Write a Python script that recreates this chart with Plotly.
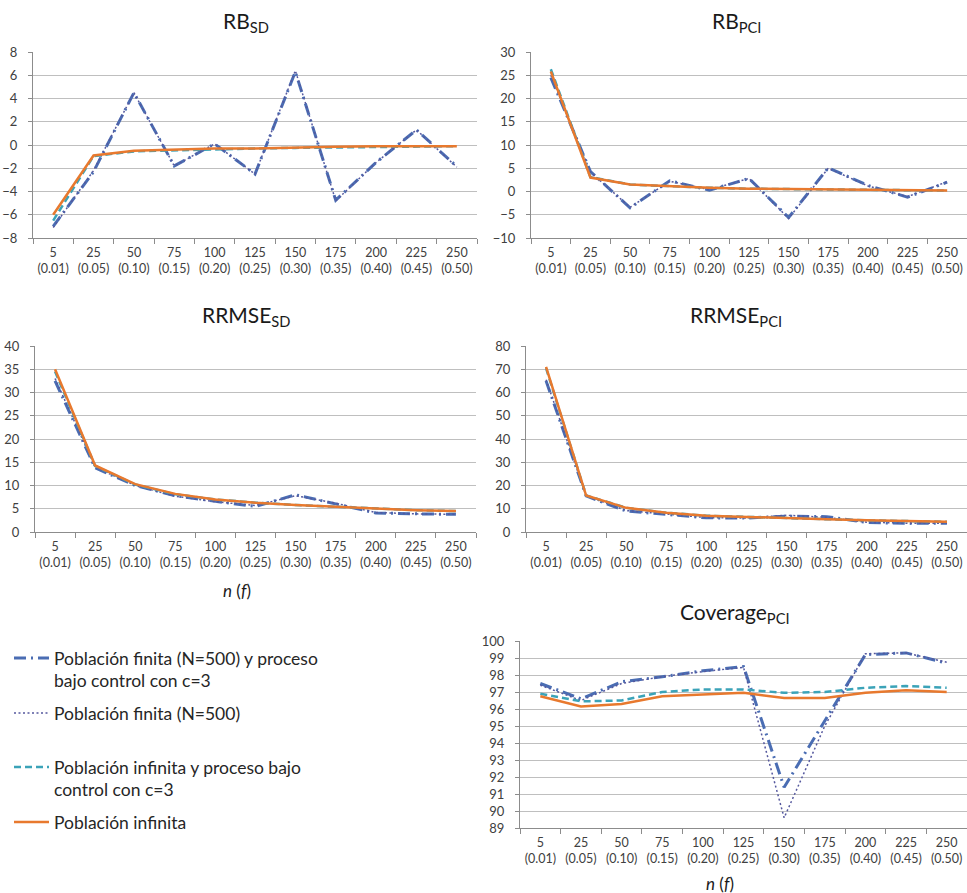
import plotly.graph_objects as go

W, H = 967, 893

# Sample size n with sampling fraction f
n_f = ["5<br>(0.01)", "25<br>(0.05)", "50<br>(0.10)", "75<br>(0.15)", "100<br>(0.20)",
       "125<br>(0.25)", "150<br>(0.30)", "175<br>(0.35)", "200<br>(0.40)", "225<br>(0.45)",
       "250<br>(0.50)"]

series_names = [
    "Población finita (N=500) y proceso<br>bajo control con c=3",
    "Población finita (N=500)",
    "Población infinita y proceso bajo<br>control con c=3",
    "Población infinita",
]

# RB_SD
rb_sd_fin_ctrl = [-7.0, -2.3, 4.5, -1.8, 0.1, -2.5, 6.3, -4.75, -1.5, 1.3, -1.85]
rb_sd_fin = [-7.1, -2.2, 4.5, -1.8, 0.1, -2.5, 6.4, -4.8, -1.5, 1.3, -1.9]
rb_sd_inf_ctrl = [-6.5, -0.95, -0.55, -0.45, -0.35, -0.3, -0.25, -0.2, -0.15, -0.1, -0.1]
rb_sd_inf = [-6.0, -0.9, -0.5, -0.4, -0.3, -0.3, -0.2, -0.15, -0.1, -0.1, -0.1]

# RB_PCI
rb_pci_fin_ctrl = [24.5, 4.3, -3.5, 2.3, 0.3, 2.8, -5.6, 5.1, 1.3, -1.2, 2.0]
rb_pci_fin = [25.0, 4.2, -3.4, 2.2, 0.4, 2.8, -5.8, 5.0, 1.2, -1.1, 2.1]
rb_pci_inf_ctrl = [26.3, 3.1, 1.5, 1.1, 0.8, 0.6, 0.5, 0.4, 0.3, 0.3, 0.2]
rb_pci_inf = [25.8, 3.0, 1.5, 1.1, 0.8, 0.6, 0.5, 0.4, 0.3, 0.3, 0.2]

# RRMSE_SD
rrmse_sd_fin_ctrl = [32.5, 13.8, 10.0, 7.8, 6.6, 5.5, 8.0, 6.0, 4.1, 3.9, 3.8]
rrmse_sd_fin = [33.0, 13.9, 10.0, 7.7, 6.5, 5.7, 7.8, 6.2, 4.2, 3.9, 3.8]
rrmse_sd_inf_ctrl = [34.5, 14.2, 10.2, 8.1, 7.0, 6.3, 5.8, 5.4, 5.0, 4.7, 4.5]
rrmse_sd_inf = [35.0, 14.3, 10.3, 8.2, 7.0, 6.3, 5.8, 5.4, 5.0, 4.7, 4.5]

# RRMSE_PCI
rrmse_pci_fin_ctrl = [65.0, 15.5, 9.0, 7.6, 6.1, 6.0, 6.8, 6.6, 4.1, 3.7, 3.8]
rrmse_pci_fin = [65.5, 15.6, 9.2, 7.7, 6.2, 6.0, 7.2, 6.3, 4.2, 3.8, 3.8]
rrmse_pci_inf_ctrl = [70.5, 15.7, 10.4, 8.3, 7.0, 6.4, 6.0, 5.5, 5.0, 4.7, 4.4]
rrmse_pci_inf = [71.0, 15.7, 10.4, 8.3, 7.0, 6.4, 6.0, 5.5, 5.0, 4.7, 4.4]

# Coverage_PCI
cov_pci_fin_ctrl = [97.5, 96.6, 97.6, 97.9, 98.25, 98.5, 91.4, 95.3, 99.2, 99.3, 98.7]
cov_pci_fin = [97.4, 96.5, 97.5, 97.9, 98.2, 98.45, 89.6, 95.0, 99.25, 99.3, 98.75]
cov_pci_inf_ctrl = [96.9, 96.45, 96.5, 97.0, 97.15, 97.15, 96.95, 97.0, 97.25, 97.35, 97.25]
cov_pci_inf = [96.75, 96.15, 96.3, 96.75, 96.85, 96.95, 96.65, 96.65, 96.95, 97.1, 97.0]

line_styles = [
    dict(color="#4A6DB3", width=3, dash="12px,5px,2px,5px"),
    dict(color="#55589E", width=1.5, dash="2px,2.5px"),
    dict(color="#3BA3B8", width=2.5, dash="7px,4px"),
    dict(color="#E8792E", width=2.5, dash="solid"),
]

FONT = "Lato, 'Open Sans', sans-serif"
GRID = "#BFBFBF"
AXIS = "#8C8C8C"
TXT = "#404040"

# (title, series, y range, dtick, x px domain, y px domain, title position, x-axis title position)
panels = [
    ("RB<sub>SD</sub>", [rb_sd_fin_ctrl, rb_sd_fin, rb_sd_inf_ctrl, rb_sd_inf],
     [-8, 8], 2, (33, 477), (52, 238), (246, 22), None),
    ("RB<sub>PCI</sub>", [rb_pci_fin_ctrl, rb_pci_fin, rb_pci_inf_ctrl, rb_pci_inf],
     [-10, 30], 5, (531, 967), (52, 238), (736, 22), None),
    ("RRMSE<sub>SD</sub>", [rrmse_sd_fin_ctrl, rrmse_sd_fin, rrmse_sd_inf_ctrl, rrmse_sd_inf],
     [0, 40], 5, (35, 476), (346, 532), (246, 316), (237, 590)),
    ("RRMSE<sub>PCI</sub>", [rrmse_pci_fin_ctrl, rrmse_pci_fin, rrmse_pci_inf_ctrl, rrmse_pci_inf],
     [0, 80], 10, (526, 967), (346, 532), (736, 316), None),
    ("Coverage<sub>PCI</sub>", [cov_pci_fin_ctrl, cov_pci_fin, cov_pci_inf_ctrl, cov_pci_inf],
     [89, 100], 1, (520, 967), (641, 828), (735, 613), (720, 883)),
]

# one legend box per series, placed by the top of its first text line
legend_ids = ["legend", "legend2", "legend3", "legend4"]
legend_tops = [640, 695, 749, 804]

fig = go.Figure()
layout = {}
annotations = []

for i, (title, series, yr, dt, xd, yd, tpos, xtpos) in enumerate(panels):
    k = "" if i == 0 else str(i + 1)
    for j, (name, vals, st) in enumerate(zip(series_names, series, line_styles)):
        fig.add_trace(go.Scatter(
            x=n_f, y=vals, mode="lines", name=name,
            line=st, showlegend=(i == 0), legend=legend_ids[j],
            xaxis="x" + k, yaxis="y" + k,
        ))
    layout["xaxis" + k] = dict(
        domain=[xd[0] / W, min(xd[1] / W, 1)], anchor="y" + k,
        type="category", range=[-0.5, 10.5], tickson="boundaries",
        ticks="outside", ticklen=5, tickcolor=AXIS, showgrid=False,
        showline=True, linecolor=AXIS, linewidth=1, tickangle=0,
        tickfont=dict(family=FONT, size=12.5, color=TXT), ticklabelstandoff=3,
        automargin=False, fixedrange=True,
    )
    layout["yaxis" + k] = dict(
        domain=[1 - yd[1] / H, 1 - yd[0] / H], anchor="x" + k,
        range=yr, dtick=dt, tick0=yr[0], showgrid=True, gridcolor=GRID, gridwidth=1,
        zeroline=False, showline=True, linecolor=AXIS, linewidth=1,
        ticks="outside", ticklen=4, tickcolor=AXIS,
        tickfont=dict(family=FONT, size=13, color=TXT), ticklabelstandoff=8,
        automargin=False, fixedrange=True,
    )
    annotations.append(dict(
        text=title, x=tpos[0] / W, y=1 - tpos[1] / H, xref="paper", yref="paper",
        xanchor="center", yanchor="middle", showarrow=False,
        font=dict(family=FONT, size=21, color="#1A1A1A"),
    ))
    if xtpos:
        annotations.append(dict(
            text="<i>n</i> (<i>f</i>)", x=xtpos[0] / W, y=1 - xtpos[1] / H,
            xref="paper", yref="paper", xanchor="center", yanchor="middle",
            showarrow=False, font=dict(family=FONT, size=17, color="#1A1A1A"),
        ))

for lid, top in zip(legend_ids, legend_tops):
    layout[lid] = dict(
        x=9 / W, y=1 - top / H, xanchor="left", yanchor="top",
        font=dict(family=FONT, size=17.5, color="#262626"),
        valign="top", bgcolor="rgba(0,0,0,0)", itemwidth=35,
    )

fig.update_layout(
    **layout,
    annotations=annotations,
    width=W, height=H,
    margin=dict(l=0, r=0, t=0, b=0, pad=0, autoexpand=False),
    paper_bgcolor="white", plot_bgcolor="white",
    font=dict(family=FONT, color=TXT),
)

fig.write_html("out.html")
